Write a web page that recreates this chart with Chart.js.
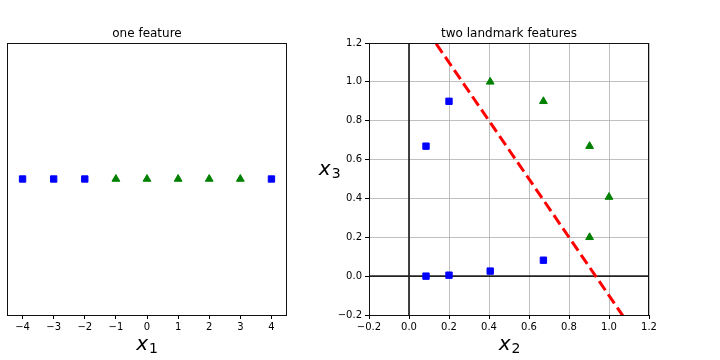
<!DOCTYPE html>
<html>
<head>
<meta charset="utf-8">
<script src="https://cdn.jsdelivr.net/npm/chart.js@4.4.0/dist/chart.umd.min.js"></script>
<style>
  body { margin: 0; background: #fff; overflow: hidden; }
  #wrap { position: relative; width: 720px; height: 360px; }
  canvas { position: absolute; top: 1px; }
  #left { left: 0; }
  #right { left: 310px; }
</style>
</head>
<body>
<div id="wrap">
  <canvas id="left" width="320" height="359"></canvas>
  <canvas id="right" width="410" height="359"></canvas>
</div>
<script>
// one feature: x1 positions of each class
const x1Blue = [-4, -3, -2, 4];
const x1Green = [-1, 0, 1, 2, 3];

// two landmark features (x2, x3)
const x2Blue = [0.085, 0.2, 0.085, 0.2, 0.406, 0.672];
const x3Blue = [0.669, 0.9, 0.0, 0.005, 0.026, 0.082];
const x2Green = [0.406, 0.672, 0.903, 1.0, 0.903];
const x3Green = [1.0, 0.9, 0.669, 0.407, 0.2];

// decision boundary (red dashed)
const boundX = [0.0, 1.2];
const boundY = [1.4, -0.4];

// axes
const x1Ticks = [-4, -3, -2, -1, 0, 1, 2, 3, 4];
const rightTicks = [-0.2, 0.0, 0.2, 0.4, 0.6, 0.8, 1.0, 1.2];

Chart.defaults.font.family = "DejaVu Sans";
Chart.defaults.font.size = 10;
Chart.defaults.color = "#000";

const minus = s => s.replace("-", "\u2212");

function mathLabel(ctx, base, sub, cx, by) {
  ctx.font = "italic 20px 'DejaVu Sans'";
  const wb = ctx.measureText(base).width;
  ctx.font = "14px 'DejaVu Sans'";
  const ws = ctx.measureText(sub).width;
  const x0 = cx - (wb + ws + 1) / 2;
  ctx.textAlign = "left";
  ctx.textBaseline = "alphabetic";
  ctx.font = "italic 20px 'DejaVu Sans'";
  ctx.fillText(base, x0, by);
  ctx.font = "14px 'DejaVu Sans'";
  ctx.fillText(sub, x0 + wb + 1, by + 3);
}

const decor = {
  id: "decor",
  afterDraw(chart) {
    const o = chart.options.plugins.decor;
    const ctx = chart.ctx;
    const a = chart.chartArea;
    ctx.save();
    ctx.strokeStyle = "#111";
    ctx.lineWidth = 1;
    ctx.strokeRect(a.left + 0.5, a.top + 0.5, a.right - a.left - 1, a.bottom - a.top);
    ctx.fillStyle = "#000";
    ctx.font = "12px 'DejaVu Sans'";
    ctx.textAlign = "center";
    ctx.textBaseline = "alphabetic";
    ctx.fillText(o.title, (a.left + a.right) / 2, 36);
    mathLabel(ctx, "x", o.xSub, o.xLabelX, 349);
    if (o.ySub) mathLabel(ctx, "x", o.ySub, o.yLabelX, 174);
    ctx.restore();
  }
};

const pts = (xs, ys) => xs.map((x, i) => ({ x: x, y: ys[i] }));

new Chart(document.getElementById("left"), {
  type: "scatter",
  data: {
    datasets: [
      { data: pts(x1Blue, x1Blue.map(() => 0)), pointStyle: "rect", pointRadius: 4.5,
        backgroundColor: "#0000ff", borderColor: "#0000ff", borderWidth: 1 },
      { data: pts(x1Green, x1Green.map(() => 0)), pointStyle: "triangle", pointRadius: 4.5,
        backgroundColor: "#008000", borderColor: "#008000", borderWidth: 1 }
    ]
  },
  options: {
    responsive: false,
    animation: false,
    layout: { padding: { left: 7, right: 33, top: 42, bottom: 0 } },
    scales: {
      x: {
        type: "linear", min: -4.5, max: 4.5,
        afterFit: s => { s.height = 45; },
        afterBuildTicks: s => { s.ticks = x1Ticks.map(v => ({ value: v })); },
        ticks: { padding: 2, callback: v => minus(String(v)) },
        grid: { drawOnChartArea: false, tickLength: 4, tickColor: "#000", tickWidth: 1 },
        border: { display: false }
      },
      y: { display: false, min: -1, max: 1 }
    },
    plugins: {
      legend: { display: false },
      tooltip: { enabled: false },
      decor: { title: "one feature", xSub: "1", xLabelX: 147 }
    }
  },
  plugins: [decor]
});

new Chart(document.getElementById("right"), {
  type: "scatter",
  data: {
    datasets: [
      { data: pts(boundX, boundY), showLine: true, pointRadius: 0, borderColor: "#ff0000",
        borderWidth: 3, borderDash: [11, 5], clip: 0, order: 0 },
      { data: pts(x2Blue, x3Blue), pointStyle: "rect", pointRadius: 4.5,
        backgroundColor: "#0000ff", borderColor: "#0000ff", borderWidth: 1, order: 1 },
      { data: pts(x2Green, x3Green), pointStyle: "triangle", pointRadius: 4.5,
        backgroundColor: "#008000", borderColor: "#008000", borderWidth: 1, order: 1 },
      { data: pts([-0.2, 1.2], [0, 0]), showLine: true, pointRadius: 0, borderColor: "#222",
        borderWidth: 1.7, clip: 0, order: 3 },
      { data: pts([0, 0], [-0.2, 1.2]), showLine: true, pointRadius: 0, borderColor: "#222",
        borderWidth: 1.7, clip: 0, order: 3 }
    ]
  },
  options: {
    responsive: false,
    animation: false,
    layout: { padding: { left: 0, right: 71, top: 42, bottom: 0 } },
    scales: {
      x: {
        type: "linear", min: -0.2, max: 1.2,
        afterFit: s => { s.height = 45; },
        afterBuildTicks: s => { s.ticks = rightTicks.map(v => ({ value: v })); },
        ticks: { padding: 2, callback: v => minus(v.toFixed(1)) },
        grid: { color: "#b0b0b0", lineWidth: 0.8, tickLength: 4, tickColor: "#000", tickWidth: 1 },
        border: { display: false }
      },
      y: {
        type: "linear", min: -0.2, max: 1.2,
        afterFit: s => { s.width = 59; },
        afterBuildTicks: s => { s.ticks = rightTicks.map(v => ({ value: v })); },
        ticks: { padding: 3, callback: v => minus(v.toFixed(1)) },
        grid: { color: "#b0b0b0", lineWidth: 0.8, tickLength: 4, tickColor: "#000", tickWidth: 1 },
        border: { display: false }
      }
    },
    plugins: {
      legend: { display: false },
      tooltip: { enabled: false },
      decor: { title: "two landmark features", xSub: "2", xLabelX: 199.5, ySub: "3", yLabelX: 19.7 }
    }
  },
  plugins: [decor]
});
</script>
</body>
</html>
